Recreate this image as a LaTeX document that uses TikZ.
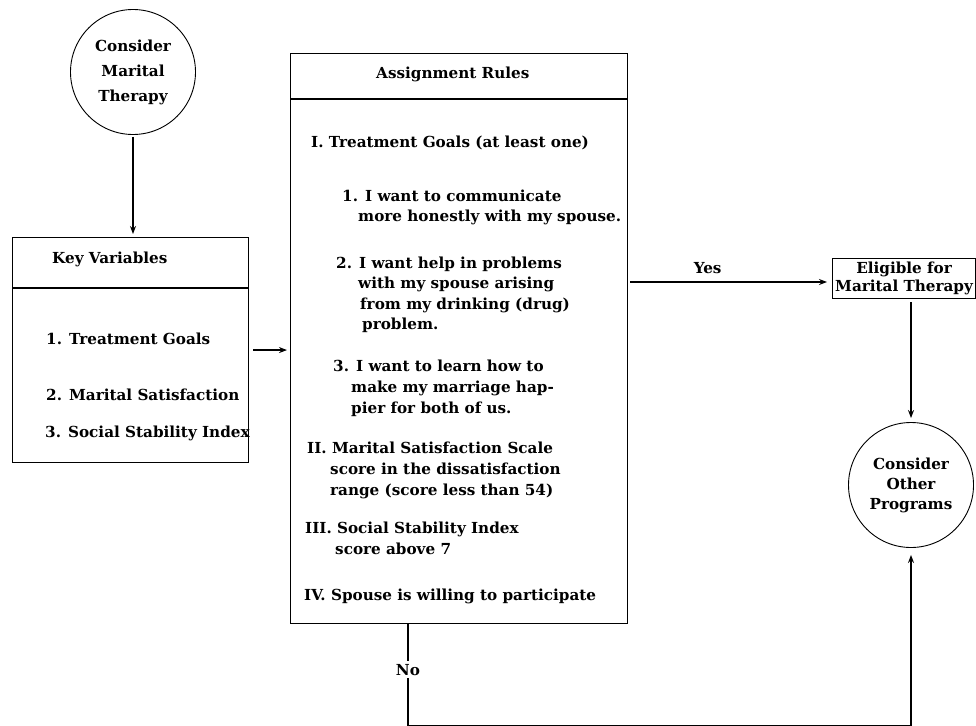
\documentclass[tikz,border=0pt]{standalone}
\usepackage{fontspec}
\setmainfont{DejaVu Serif}
\usetikzlibrary{arrows.meta}
\begin{document}
\begin{tikzpicture}[x=1pt,y=-1pt,
  every node/.style={font=\fontsize{15.2}{21}\selectfont\bfseries},
  boxr/.style={draw, line width=1.1pt, inner sep=0pt, anchor=north west},
  circnode/.style={draw, circle, line width=0.9pt, minimum size=125pt, inner sep=0pt, align=center},
  txt/.style={anchor=base west, inner sep=0pt},
  conn/.style={line width=1.5pt},
  arr/.style={conn, -{Stealth[length=8pt,width=6pt]}},
  rule/.style={line width=1.8pt}]
\path[use as bounding box] (0,0) rectangle (976,725);

% left circle
\node[circnode] (cmt) at (133,72) {Consider\\[4pt]Marital\\[4pt]Therapy};

% Key variables box
\node[boxr, minimum width=236pt, minimum height=225pt] (kv) at (12,237) {};
\draw[rule] ([yshift=-51pt]kv.north west) -- ([yshift=-51pt]kv.north east);
\node[txt] (kvh) at (52,263) {Key Variables};
\node[txt] (kv1) at (46,344) {1. Treatment Goals};
\node[txt] (kv2) at (46,400) {2. Marital Satisfaction};
\node[txt] (kv3) at (45,437) {3. Social Stability Index};

% Assignment rules box
\node[boxr, minimum width=337pt, minimum height=570pt] (ar) at (290,53) {};
\draw[rule] ([yshift=-46pt]ar.north west) -- ([yshift=-46pt]ar.north east);
\node[txt] (arh) at (376,78) {Assignment Rules};
\node[txt] (a1) at (311,147) {I. Treatment Goals (at least one)};
\node[txt] (a2) at (342,201) {1. I want to communicate};
\node[txt] (a3) at (358,221) {more honestly with my spouse.};
\node[txt] (a4) at (336,268) {2. I want help in problems};
\node[txt] (a5) at (358,288) {with my spouse arising};
\node[txt] (a6) at (360,309) {from my drinking (drug)};
\node[txt] (a7) at (362,329) {problem.};
\node[txt] (a8) at (333,371) {3. I want to learn how to};
\node[txt] (a9) at (351,392) {make my marriage hap-};
\node[txt] (a10) at (351,413) {pier for both of us.};
\node[txt] (a11) at (307,453) {II. Marital Satisfaction Scale};
\node[txt] (a12) at (330,474) {score in the dissatisfaction};
\node[txt] (a13) at (330,495) {range (score less than 54)};
\node[txt] (a14) at (305,533) {III. Social Stability Index};
\node[txt] (a15) at (335,554) {score above 7};
\node[txt] (a16) at (304,600) {IV. Spouse is willing to participate};

% Eligible box
\node[boxr, minimum width=143pt, minimum height=40pt] (el) at (832,258) {};
\node[align=center, inner sep=0pt] (elt) at (el.center) {Eligible for\\[-3pt]Marital Therapy};

% right circle
\node[circnode] (cop) at (911,485) {Consider\\[-1pt]Other\\[-1pt]Programs};

% connectors
\draw[arr, shorten <=2pt, shorten >=3pt] (cmt.south) -- (cmt.south |- kv.north);
\draw[arr, shorten <=4pt, shorten >=3pt] (kv.east) -- (kv.east -| ar.west);
\draw[arr, shorten <=2pt, shorten >=5pt] (ar.east |- 0,282) -- (el.west |- 0,282)
  node[pos=0.39, above=8pt, inner sep=0pt] (yes) {Yes};
\draw[arr, shorten <=3pt, shorten >=4pt] (cop.north |- el.south) -- (cop.north);
\coordinate (nofoot) at (408,725.6);
\draw[arr, shorten >=7pt] (ar.south -| nofoot) -- node[fill=white, inner sep=3pt, pos=0.45] (no) {No} (nofoot) -| (cop.south);
\end{tikzpicture}
\end{document}
